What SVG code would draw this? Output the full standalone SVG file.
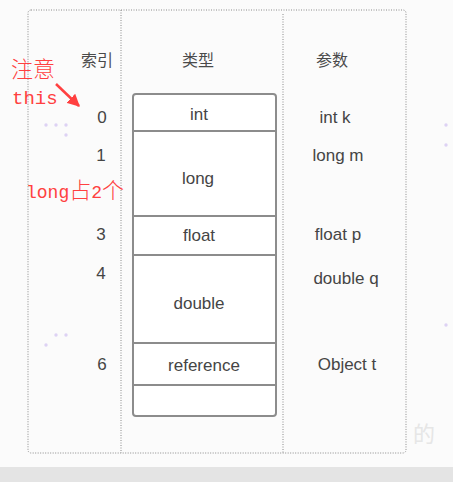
<svg xmlns="http://www.w3.org/2000/svg" width="453" height="482" viewBox="0 0 453 482">
<defs>
<style>
.t{font-family:"Liberation Sans","Noto Sans CJK SC",sans-serif;font-size:17px;fill:#454545;text-anchor:middle}
.h{font-family:"Noto Sans CJK SC",sans-serif;font-size:16px;fill:#4a4a4a;text-anchor:middle}
.dot{fill:none;stroke:#8a8a8a;stroke-width:1;stroke-dasharray:1 1.5}
.red{fill:#ff4040}
.pd{fill:#ddd2f4}
.box{fill:#ffffff;stroke:#8c8c8c;stroke-width:2}
.div{stroke:#8c8c8c;stroke-width:2}
.cj{font-family:"Noto Sans CJK SC",sans-serif;font-weight:300}
</style>
<marker id="ah" viewBox="0 0 10 10" refX="9" refY="5" markerWidth="5" markerHeight="5" orient="auto">
<path d="M0,0 L10,5 L0,10 Z" fill="#ff4040"/>
</marker>
</defs>
<rect width="453" height="482" fill="#fbfbfb"/>
<rect x="0" y="467" width="453" height="15" fill="#e4e4e4"/>
<g id="frame">
<rect class="dot" x="28" y="10" width="378" height="443" rx="3"/>
<line class="dot" x1="121" y1="10" x2="121" y2="453"/>
<line class="dot" x1="283" y1="14" x2="283" y2="453"/>
</g>
<g id="dots">
<circle class="pd" cx="46" cy="125" r="1.7"/><circle class="pd" cx="56" cy="125" r="1.7"/><circle class="pd" cx="66" cy="125" r="1.7"/><circle class="pd" cx="66" cy="135" r="1.7"/>
<circle class="pd" cx="266" cy="125" r="1.7"/><circle class="pd" cx="256" cy="135" r="1.7"/><circle class="pd" cx="246" cy="145" r="1.7"/>
<circle class="pd" cx="446" cy="125" r="1.7"/><circle class="pd" cx="446" cy="145" r="1.7"/>
<circle class="pd" cx="246" cy="325" r="1.7"/><circle class="pd" cx="266" cy="325" r="1.7"/><circle class="pd" cx="266" cy="345" r="1.7"/>
<circle class="pd" cx="56" cy="335" r="1.7"/><circle class="pd" cx="66" cy="335" r="1.7"/><circle class="pd" cx="46" cy="345" r="1.7"/>
<circle class="pd" cx="446" cy="325" r="1.7"/>
</g>
<g id="headers">
<text class="h" x="97" y="66">索引</text>
<text class="h" x="198" y="66">类型</text>
<text class="h" x="332" y="66">参数</text>
</g>
<g id="stack">
<rect class="box" x="133" y="94" width="143" height="322" rx="3"/>
<line class="div" x1="133" y1="131" x2="276" y2="131"/>
<line class="div" x1="133" y1="216" x2="276" y2="216"/>
<line class="div" x1="133" y1="255" x2="276" y2="255"/>
<line class="div" x1="133" y1="343" x2="276" y2="343"/>
<line class="div" x1="133" y1="385" x2="276" y2="385"/>
</g>
<g id="slot-int"><text class="t" x="199" y="120">int</text></g>
<g id="slot-long"><text class="t" x="198" y="184">long</text></g>
<g id="slot-float"><text class="t" x="199" y="241">float</text></g>
<g id="slot-double"><text class="t" x="199" y="309">double</text></g>
<g id="slot-reference"><text class="t" x="204" y="371">reference</text></g>
<g id="slot-empty"></g>
<g id="indices">
<text class="t" x="102" y="123">0</text>
<text class="t" x="101" y="161">1</text>
<text class="t" x="101" y="240">3</text>
<text class="t" x="101" y="279">4</text>
<text class="t" x="102" y="370">6</text>
</g>
<g id="params">
<text class="t" x="335" y="123">int k</text>
<text class="t" x="338" y="161">long m</text>
<text class="t" x="338" y="240">float p</text>
<text class="t" x="346" y="284">double q</text>
<text class="t" x="347" y="370">Object t</text>
</g>
<g id="annotations">
<text class="red cj" x="11" y="77" font-size="22">注意</text>
<text class="red" x="12" y="104" font-family="Liberation Mono,monospace" font-size="19">this</text>
<text class="red" x="26" y="198" font-family="Liberation Mono,monospace" font-size="18">long<tspan class="cj" font-size="22">占</tspan>2<tspan class="cj" font-size="22">个</tspan></text>
</g>
<g id="connectors">
<line x1="56" y1="84" x2="79" y2="106" stroke="#ff4040" stroke-width="2.5" marker-end="url(#ah)"/>
</g>
<text x="413" y="442" font-family="Noto Sans CJK SC,sans-serif" font-size="22" fill="#e6e6e6">的</text>
</svg>
